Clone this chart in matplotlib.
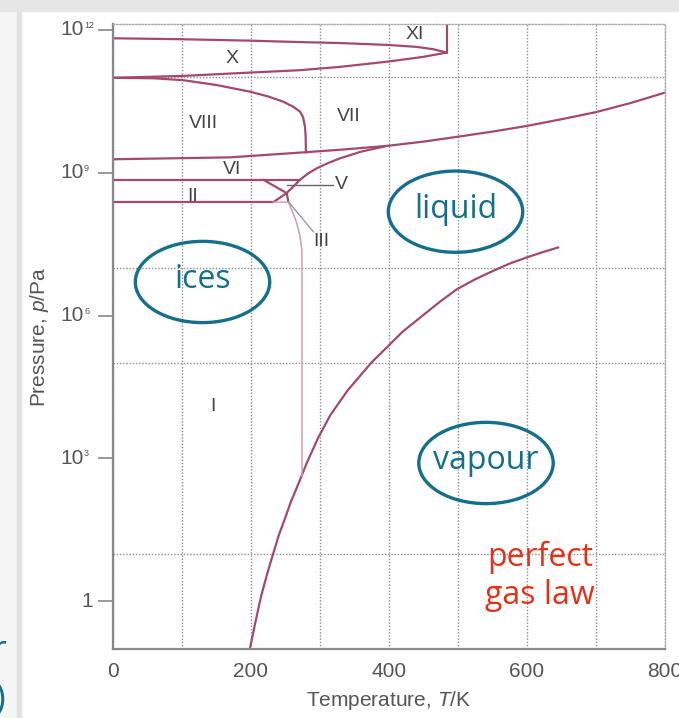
import numpy as np
import matplotlib.pyplot as plt
from matplotlib.patches import Ellipse, Rectangle
from matplotlib.ticker import FixedLocator, NullFormatter

plt.rcParams['font.family'] = ['Liberation Sans', 'DejaVu Sans']
plt.rcParams['mathtext.fontset'] = 'custom'
plt.rcParams['mathtext.rm'] = 'Liberation Sans'
plt.rcParams['mathtext.it'] = 'Liberation Sans:italic'

# phase boundaries of water: temperature T/K and log10(p/Pa)
x_top_T = [0, 100, 199, 271.5, 329.5, 398.5, 440, 464.5, 484]
x_top_lp = [11.82, 11.80, 11.77, 11.74, 11.72, 11.68, 11.64, 11.59, 11.52]
x_bot_T = [0, 102.5, 199, 271.5, 329.5, 398.5, 450, 484]
x_bot_lp = [10.99, 11.03, 11.10, 11.15, 11.22, 11.33, 11.43, 11.52]
xi_T = [484, 484]
xi_lp = [11.52, 12.12]
viii_T = [0, 60, 102.5, 150, 199, 225, 247, 262, 271.5, 276, 278.7, 279.7, 280]
viii_lp = [10.99, 10.98, 10.94, 10.84, 10.70, 10.60, 10.49, 10.38, 10.28, 10.16, 9.96, 9.75, 9.42]
vi_top_T = [0, 170, 271.5, 329.5, 397, 450, 498.4, 550, 600, 650, 700, 750, 800]
vi_top_lp = [9.28, 9.32, 9.42, 9.48, 9.56, 9.65, 9.75, 9.86, 9.98, 10.12, 10.27, 10.46, 10.68]
vi_melt_T = [232.8, 242, 252.2, 262, 271.5, 283, 295.7, 312, 329.5, 360, 397]
vi_melt_lp = [8.38, 8.47, 8.57, 8.71, 8.85, 8.98, 9.09, 9.20, 9.30, 9.44, 9.56]
ii_top_T = [0, 271.5]
ii_top_lp = [8.85, 8.85]
ii_bot_T = [0, 232.8]
ii_bot_lp = [8.38, 8.38]
ii_iii_T = [218.4, 252.2, 254.6]
ii_iii_lp = [8.85, 8.57, 8.39]
ice1_T = [232.8, 254.6, 261, 266.7, 271, 274, 274.4, 274.4]
ice1_lp = [8.38, 8.38, 8.17, 7.94, 7.70, 7.40, 6.89, 2.62]
vap_T = [199, 207, 215, 224, 232.8, 241, 250, 258, 266.7, 282, 298, 315, 340, 375.3,
         398.5, 420, 450, 475, 498.4, 525, 550, 575, 599.8, 625, 645.5]
vap_lp = [-0.99, -0.43, 0.1, 0.58, 1.01, 1.40, 1.75, 2.08, 2.38, 2.93, 3.44, 3.90, 4.42, 5.02,
          5.35, 5.66, 6.01, 6.30, 6.55, 6.76, 6.93, 7.09, 7.22, 7.34, 7.43]

# phase labels (T, log10 p)
phase_names = ['X', 'XI', 'VIII', 'VII', 'VI', 'II', 'III', 'I']
phase_T = [172.6, 438, 131.5, 341.5, 172.6, 116, 303, 145]
phase_lp = [11.40, 11.89, 10.04, 10.17, 9.06, 8.50, 7.55, 4.08]
v_leader_T = [252.2, 319.8]
v_leader_lp = [8.74, 8.74]
iii_leader_T = [254.6, 290.8]
iii_leader_lp = [8.39, 7.76]

y_tick_exp = [12, 9, 6, 3]
x_ticks = [0, 200, 400, 600, 800]

line_c = '#a3496f'
teal = '#156f8c'
gray = '#555555'
grid_style = dict(color='#8c8c8c', linestyle=(0, (1, 1.3)), linewidth=1.0)

def P(lp):
    return 10.0 ** np.array(lp)

fig = plt.figure(figsize=(6.79, 7.18), dpi=100)
fig.patches.append(Rectangle((0, 0), 19 / 679, 1, transform=fig.transFigure,
                             color='#f5f5f5', zorder=-5))
fig.patches.append(Rectangle((17 / 679, 0), 4 / 679, 1, transform=fig.transFigure,
                             color='#e2e2e2', zorder=-4))
fig.patches.append(Rectangle((0, 1 - 11 / 718), 1, 11 / 718, transform=fig.transFigure,
                             color='#e6e6e6', zorder=-3))

ax = fig.add_axes([0.1657, 0.0961, 0.8137, 0.8705])
ax.set_yscale('log')
ax.set_xlim(0, 800)
ax.set_ylim(10 ** -1, 10 ** 12.12)

# grid
ax.xaxis.set_major_locator(FixedLocator(x_ticks))
ax.xaxis.set_minor_locator(FixedLocator([100, 300, 500, 700]))
ax.yaxis.set_major_locator(FixedLocator([10.0 ** e for e in y_tick_exp] + [1]))
ax.yaxis.set_minor_locator(FixedLocator([10.0 ** e for e in range(-1, 12, 2)]))
ax.yaxis.set_major_formatter(NullFormatter())
ax.yaxis.set_minor_formatter(NullFormatter())
ax.grid(True, which='both', axis='x', **grid_style)
ax.grid(True, which='minor', axis='y', **grid_style)
ax.set_axisbelow(True)
ax.tick_params(axis='x', which='both', length=0, pad=9, labelsize=15, labelcolor=gray)
ax.tick_params(axis='y', which='major', length=11, width=1.2, color='#888888', direction='out')
ax.tick_params(axis='y', which='minor', length=0)
for side in ['left', 'bottom']:
    ax.spines[side].set_color('#888888')
    ax.spines[side].set_linewidth(1.6)
for side in ['top', 'right']:
    ax.spines[side].set_color('#aaaaaa')
    ax.spines[side].set_linestyle((0, (1, 1.3)))
    ax.spines[side].set_linewidth(1.0)

# y tick labels 10^n with small exponent
for e in y_tick_exp:
    ax.annotate('10', xy=(0, 10.0 ** e), xycoords=('axes fraction', 'data'),
                xytext=(-21, 0), textcoords='offset points', ha='right', va='center',
                fontsize=15, color=gray)
    ax.annotate(str(e), xy=(0, 10.0 ** e), xycoords=('axes fraction', 'data'),
                xytext=(-20.5, 6.5), textcoords='offset points', ha='left', va='top',
                fontsize=6.5, color=gray)
ax.annotate('1', xy=(0, 1), xycoords=('axes fraction', 'data'), xytext=(-14, 0),
            textcoords='offset points', ha='right', va='center', fontsize=15, color=gray)

# phase boundaries
lw = 1.6
for T, lp in [(x_top_T, x_top_lp), (x_bot_T, x_bot_lp), (xi_T, xi_lp), (viii_T, viii_lp),
              (vi_top_T, vi_top_lp), (vi_melt_T, vi_melt_lp), (ii_top_T, ii_top_lp),
              (ii_bot_T, ii_bot_lp), (ii_iii_T, ii_iii_lp), (vap_T, vap_lp)]:
    ax.plot(T, P(lp), color=line_c, lw=lw, solid_capstyle='round', solid_joinstyle='round')
ax.plot(ice1_T, P(ice1_lp), color='#d49bb3', lw=1.1, solid_joinstyle='round')
ax.plot(v_leader_T, P(v_leader_lp), color='#666666', lw=1.0)
ax.plot(iii_leader_T, P(iii_leader_lp), color='#999999', lw=1.0)

for name, T, lp in zip(phase_names, phase_T, phase_lp):
    ax.text(T, 10.0 ** lp, name, ha='center', va='center', fontsize=14, color='#444444')
ax.text(322, 10.0 ** 8.74, 'V', ha='left', va='center', fontsize=14, color='#444444')

# annotations
for (cx, cy), word in zip([(0.1629, 0.5872), (0.6208, 0.6997), (0.676, 0.2976)],
                          ['ices', 'liquid', 'vapour']):
    ax.add_patch(Ellipse((cx, cy), 0.2433, 0.13, transform=ax.transAxes, fill=False,
                         edgecolor=teal, lw=2.4, zorder=5))
    ax.text(cx, cy + 0.004, word, transform=ax.transAxes, ha='center', va='center',
            fontsize=23, color=teal, family='Open Sans', zorder=6)
ax.text(0.7738, 0.1168, 'perfect\ngas law', transform=ax.transAxes, ha='center',
        va='center', fontsize=23, color='#e2321a', family='Open Sans', linespacing=1.2)

ax.set_xlabel('Temperature, $T$/K', fontsize=15, color=gray, labelpad=6)
ax.set_ylabel('Pressure, $p$/Pa', fontsize=15, color=gray, labelpad=30)

# clipped text from the neighbouring panel
fig.text(7 / 679, (718 - 652) / 718, 'r', ha='right', va='center', fontsize=26,
         color=teal, family='Open Sans')
fig.text(6 / 679, (718 - 700) / 718, ')', ha='right', va='center', fontsize=26,
         color=teal, family='Open Sans')

fig.savefig('out.png', dpi=100)
